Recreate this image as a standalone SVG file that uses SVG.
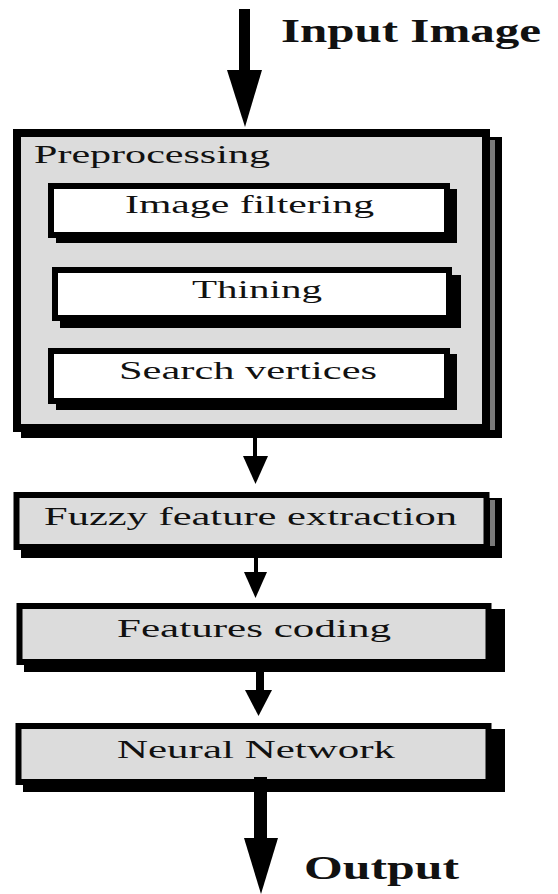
<svg xmlns="http://www.w3.org/2000/svg" width="558" height="894" viewBox="0 0 558 894">
<style>
  .shadow { fill: #000; }
  .gap { fill: #7a7a7a; }
  .box { fill: #dcdcdc; stroke: #000; }
  .inner { fill: #fff; stroke: #000; }
  .lbl { font-family: "Liberation Serif", "Times New Roman", serif; font-size: 25px; fill: #111; }
  .big { font-family: "Liberation Serif", "Times New Roman", serif; font-size: 34px; font-weight: bold; fill: #111; }
  .arrow { fill: #000; }
</style>
<rect width="558" height="894" fill="#fff"/>

<g id="input-label">
  <text class="big" x="281" y="42" textLength="260" lengthAdjust="spacingAndGlyphs">Input Image</text>
</g>

<g id="preprocessing">
  <rect class="shadow" x="21" y="137" width="481" height="301"/>
  <rect class="gap" x="490" y="140" width="5" height="290"/>
  <rect class="box" x="17" y="133" width="469" height="295" stroke-width="8" fill="#d9d9d9"/>
  <text class="lbl" x="34" y="163" textLength="236" lengthAdjust="spacingAndGlyphs">Preprocessing</text>
</g>

<g id="image-filtering">
  <rect class="shadow" x="56" y="189" width="401" height="54"/>
  <rect class="inner" x="51" y="186" width="396" height="49" stroke-width="6"/>
  <text class="lbl" x="125" y="213" textLength="249" lengthAdjust="spacingAndGlyphs">Image filtering</text>
</g>

<g id="thining">
  <rect class="shadow" x="60" y="275" width="401" height="53"/>
  <rect class="inner" x="55" y="270" width="394" height="48" stroke-width="6"/>
  <text class="lbl" x="192" y="298" textLength="130" lengthAdjust="spacingAndGlyphs">Thining</text>
</g>

<g id="search-vertices">
  <rect class="shadow" x="56" y="354" width="401" height="56"/>
  <rect class="inner" x="51" y="351" width="396" height="50" stroke-width="6"/>
  <text class="lbl" x="119" y="379" textLength="258" lengthAdjust="spacingAndGlyphs">Search vertices</text>
</g>

<g id="fuzzy-feature-extraction">
  <rect class="shadow" x="21" y="498" width="481" height="60"/>
  <rect class="gap" x="490" y="500" width="5" height="46"/>
  <rect class="box" x="16.5" y="495" width="470" height="52" stroke-width="6"/>
  <text class="lbl" x="44" y="525" textLength="413" lengthAdjust="spacingAndGlyphs">Fuzzy feature extraction</text>
</g>

<g id="features-coding">
  <rect class="shadow" x="24" y="609" width="481" height="63"/>
  <rect class="box" x="19.5" y="606" width="469" height="56" stroke-width="6"/>
  <text class="lbl" x="117" y="637" textLength="274" lengthAdjust="spacingAndGlyphs">Features coding</text>
</g>

<g id="neural-network">
  <rect class="shadow" x="23" y="729" width="482" height="63"/>
  <rect class="box" x="18.5" y="726" width="470" height="56" stroke-width="6"/>
  <text class="lbl" x="117" y="758" textLength="278" lengthAdjust="spacingAndGlyphs">Neural Network</text>
</g>

<g id="output-label">
  <text class="big" x="304" y="879" font-size="33" textLength="155" lengthAdjust="spacingAndGlyphs">Output</text>
</g>

<g id="connectors">
  <rect class="arrow" x="239" y="9" width="11" height="64"/>
  <polygon class="arrow" points="227,70 262,70 245,127"/>

  <rect class="arrow" x="253" y="438" width="4" height="20"/>
  <polygon class="arrow" points="243,456 268,456 255.5,484"/>

  <rect class="arrow" x="254" y="558" width="4" height="16"/>
  <polygon class="arrow" points="244,572 267,572 255.5,598"/>

  <rect class="arrow" x="256" y="672" width="8" height="20"/>
  <polygon class="arrow" points="245,690 272,690 258.5,716"/>

  <rect class="arrow" x="254" y="777" width="13" height="64"/>
  <polygon class="arrow" points="244,838 278,838 261,894"/>
</g>
</svg>
